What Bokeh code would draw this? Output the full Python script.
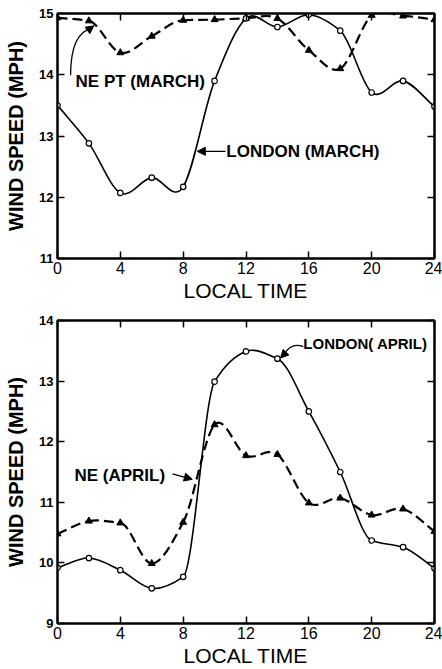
from bokeh.plotting import figure
from bokeh.layouts import column
from bokeh.models import LinearAxis, FixedTicker, Range1d, Arrow, NormalHead, ColumnDataSource
from bokeh.core.properties import value
from bokeh.embed import file_html
from bokeh.resources import INLINE

# ---------------- data ----------------
hours = [0, 2, 4, 6, 8, 10, 12, 14, 16, 18, 20, 22, 24]
london_march = [13.5, 12.88, 12.07, 12.32, 12.17, 13.9, 14.92, 14.78, 14.98, 14.72, 13.71, 13.9, 13.48]
nept_march = [14.93, 14.88, 14.36, 14.63, 14.89, 14.9, 14.92, 14.92, 14.4, 14.1, 14.97, 14.96, 14.9]
london_april = [9.92, 10.08, 9.88, 9.58, 9.77, 12.99, 13.49, 13.37, 12.5, 11.5, 10.37, 10.26, 9.91]
ne_april = [10.48, 10.69, 10.66, 9.99, 10.67, 12.28, 11.77, 11.79, 10.99, 11.07, 10.79, 10.89, 10.52]
x_ticks = [0, 4, 8, 12, 16, 20, 24]
y_ticks_top = [11, 12, 13, 14, 15]
y_ticks_bottom = [9, 10, 11, 12, 13, 14]
x_title = "LOCAL TIME"
y_title = "WIND SPEED (MPH)"

FONT = "Liberation Sans"


def smooth_source(xs, ys):
    """Bezier control points for a smooth curve through the data points."""
    n = len(xs)
    slopes = [(ys[i + 1] - ys[i]) / (xs[i + 1] - xs[i]) for i in range(n - 1)]
    m = []
    for i in range(n):
        if i == 0:
            m.append(slopes[0])
        elif i == n - 1:
            m.append(slopes[-1])
        else:
            a, b = slopes[i - 1], slopes[i]
            if a * b > 0:
                m.append(2 * a * b / (a + b))
            else:
                m.append((a + b) / 2)
    d = dict(x0=[], y0=[], x1=[], y1=[], cx0=[], cy0=[], cx1=[], cy1=[])
    for i in range(n - 1):
        h = xs[i + 1] - xs[i]
        d["x0"].append(xs[i]); d["y0"].append(ys[i])
        d["x1"].append(xs[i + 1]); d["y1"].append(ys[i + 1])
        d["cx0"].append(xs[i] + h / 3.0)
        d["cy0"].append(ys[i] + m[i] * h / 3.0)
        d["cx1"].append(xs[i + 1] - h / 3.0)
        d["cy1"].append(ys[i + 1] - m[i + 1] * h / 3.0)
    return ColumnDataSource(d)


def make_fig(height, ymin, ymax, yticks, top, bottom):
    p = figure(width=442, height=height, output_backend="svg", toolbar_location=None,
               x_range=Range1d(0, 24), y_range=Range1d(ymin, ymax),
               min_border_left=57, min_border_right=8,
               min_border_top=top, min_border_bottom=bottom)
    p.xgrid.visible = False
    p.ygrid.visible = False
    p.outline_line_color = "black"
    p.outline_line_width = 2
    p.background_fill_color = "white"
    p.border_fill_color = "white"

    for ax in p.xaxis:
        ax.ticker = FixedTicker(ticks=x_ticks)
        ax.axis_label = x_title
        ax.axis_label_text_font = FONT
        ax.axis_label_text_font_style = "normal"
        ax.axis_label_text_font_size = "21px"
        ax.axis_label_text_color = "black"
        ax.axis_label_standoff = 2
        ax.major_label_text_font = FONT
        ax.major_label_text_font_size = "16px"
        ax.major_label_text_color = "black"
        ax.major_label_standoff = 3
        ax.major_tick_in = 7
        ax.major_tick_out = 0
        ax.minor_tick_in = 0
        ax.minor_tick_out = 0
        ax.axis_line_width = 2
        ax.axis_line_color = "black"
        ax.major_tick_line_width = 1.5
        ax.major_tick_line_color = "black"
    for ax in p.yaxis:
        ax.ticker = FixedTicker(ticks=yticks)
        ax.axis_label = y_title
        ax.axis_label_text_font = FONT
        ax.axis_label_text_font_style = "bold"
        ax.axis_label_text_font_size = "20px"
        ax.axis_label_text_color = "black"
        ax.axis_label_standoff = 9
        ax.major_label_text_font = FONT
        ax.major_label_text_font_style = "bold"
        ax.major_label_text_font_size = "13px"
        ax.major_label_text_color = "black"
        ax.major_label_standoff = 4
        ax.major_tick_in = 7
        ax.major_tick_out = 0
        ax.minor_tick_in = 0
        ax.minor_tick_out = 0
        ax.axis_line_width = 2
        ax.axis_line_color = "black"
        ax.major_tick_line_width = 1.5
        ax.major_tick_line_color = "black"

    right = LinearAxis(ticker=FixedTicker(ticks=yticks),
                       major_label_overrides={t: "" for t in yticks},
                       major_tick_in=7, major_tick_out=0, minor_tick_in=0, minor_tick_out=0,
                       major_label_standoff=0, axis_line_width=2, major_tick_line_width=1.5,
                       axis_line_color="black", major_tick_line_color="black")
    above = LinearAxis(ticker=FixedTicker(ticks=x_ticks),
                       major_label_overrides={t: "" for t in x_ticks},
                       major_tick_in=7, major_tick_out=0, minor_tick_in=0, minor_tick_out=0,
                       major_label_standoff=0, axis_line_width=2, major_tick_line_width=1.5,
                       axis_line_color="black", major_tick_line_color="black")
    p.add_layout(right, "right")
    p.add_layout(above, "above")
    return p


def add_series(p, ys_solid, ys_dash):
    p.bezier(x0="x0", y0="y0", x1="x1", y1="y1", cx0="cx0", cy0="cy0", cx1="cx1", cy1="cy1",
             source=smooth_source(hours, ys_dash), line_color="black", line_width=2.2,
             line_dash="10 5")
    p.bezier(x0="x0", y0="y0", x1="x1", y1="y1", cx0="cx0", cy0="cy0", cx1="cx1", cy1="cy1",
             source=smooth_source(hours, ys_solid), line_color="black", line_width=1.6)
    p.scatter(hours, ys_dash, marker="triangle", size=7, fill_color="black", line_color="black")
    p.scatter(hours, ys_solid, marker="circle", size=5.5, fill_color="white",
              line_color="black", line_width=1.2)


def label(p, x, y, txt, size):
    p.text([x], [y], text=[txt], text_font=value(FONT), text_font_style="bold",
           text_font_size=size, text_baseline="middle", text_align="left", text_color="black")


def arrow(p, xs, ys, xe, ye):
    p.add_layout(Arrow(end=NormalHead(size=8, fill_color="black", line_color="black"),
                       x_start=xs, y_start=ys, x_end=xe, y_end=ye,
                       line_color="black", line_width=1.3))


# ---------------- top panel ----------------
p1 = make_fig(310, 11, 15, y_ticks_top, 13, 52)
add_series(p1, london_march, nept_march)
label(p1, 1.15, 13.89, "NE PT (MARCH)", "17px")
label(p1, 10.75, 12.75, "LONDON (MARCH)", "17px")
p1.bezier(x0=[0.83], y0=[13.99], x1=[2.2], y1=[14.77], cx0=[0.85], cy0=[14.48],
          cx1=[1.3], cy1=[14.70], line_color="black", line_width=1.3)
arrow(p1, 2.0, 14.74, 2.32, 14.80)
arrow(p1, 10.7, 12.75, 8.9, 12.75)

# ---------------- bottom panel ----------------
p2 = make_fig(359, 9, 14, y_ticks_bottom, 10, 39)
add_series(p2, london_april, ne_april)
label(p2, 15.65, 13.62, "LONDON( APRIL)", "15px")
label(p2, 1.08, 11.45, "NE (APRIL)", "17px")
p2.bezier(x0=[15.65], y0=[13.57], x1=[14.45], y1=[13.45], cx0=[15.1], cy0=[13.62],
          cx1=[14.7], cy1=[13.56], line_color="black", line_width=1.3)
arrow(p2, 14.45, 13.45, 14.2, 13.38)
arrow(p2, 7.32, 11.47, 8.58, 11.38)

layout = column(p1, p2, spacing=0)
open("out.html", "w").write(file_html(layout, INLINE))
